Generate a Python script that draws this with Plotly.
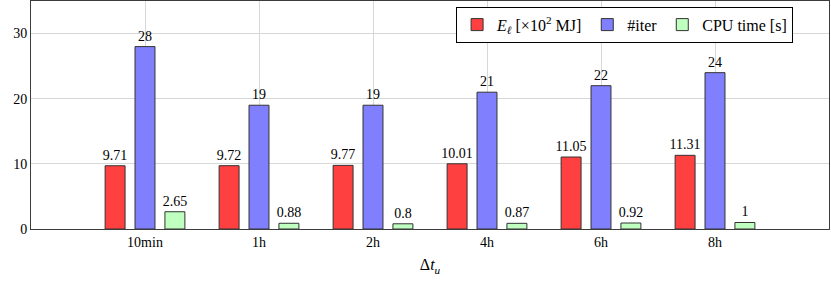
import plotly.graph_objects as go

categories = ["10min", "1h", "2h", "4h", "6h", "8h"]
energy = [9.71, 9.72, 9.77, 10.01, 11.05, 11.31]
iters = [28, 19, 19, 21, 22, 24]
cpu = [2.65, 0.88, 0.8, 0.87, 0.92, 1]
y_ticks = [0, 10, 20, 30]

FONT = "Liberation Serif"
x = list(range(len(categories)))

series = [
    ("<i>E</i><sub><i>ℓ</i></sub> [×10<sup>2</sup> MJ]", energy, "rgb(255,64,64)"),
    ("#iter", iters, "rgb(128,128,255)"),
    ("CPU time [s]", cpu, "rgb(191,255,191)"),
]

fig = go.Figure()
for name, vals, col in series:
    fig.add_trace(go.Bar(
        x=x, y=vals, name=name,
        marker=dict(color=col, line=dict(color="rgb(50,50,50)", width=1)),
        text=[f"{v:g}" for v in vals], textposition="outside",
        constraintext="none",
        outsidetextfont=dict(family=FONT, size=14, color="black"),
        cliponaxis=False,
    ))

fig.update_layout(
    width=831, height=281,
    margin=dict(l=31, r=2, t=1, b=52),
    plot_bgcolor="white", paper_bgcolor="white",
    barmode="group", bargap=0.213, bargroupgap=0.333,
    font=dict(family=FONT, size=14, color="black"),
    showlegend=True,
    legend=dict(orientation="h", x=0.955, xanchor="right", y=0.975, yanchor="top",
                bordercolor="black", borderwidth=1, bgcolor="white",
                font=dict(family=FONT, size=16, color="black"),
                tracegroupgap=0),
    xaxis=dict(range=[-1, 6], tickvals=x, ticktext=categories,
               tickfont=dict(family=FONT, size=14, color="black"),
               showgrid=True, gridcolor="rgb(215,215,215)",
               showline=True, linecolor="rgb(60,60,60)", mirror=True,
               ticks="", zeroline=False, automargin=False,
               title=dict(text="Δ<i>t</i><sub><i>u</i></sub>", standoff=10,
                          font=dict(family=FONT, size=16))),
    yaxis=dict(range=[0, 35], tickvals=y_ticks,
               tickfont=dict(family=FONT, size=14, color="black"),
               showgrid=True, gridcolor="rgb(215,215,215)",
               showline=True, linecolor="rgb(60,60,60)", mirror=True,
               ticks="", zeroline=False, automargin=False),
)

fig.write_html(
    "out.html",
    config={"displayModeBar": False},
    post_script="document.body.style.margin='0';document.body.style.overflow='hidden';",
)
